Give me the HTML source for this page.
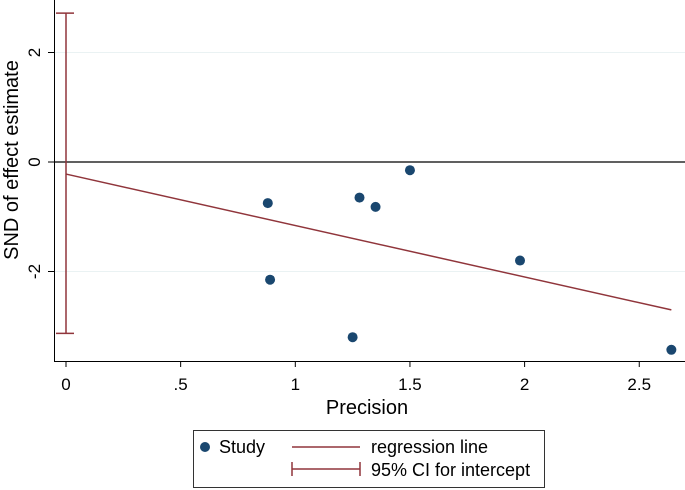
<!DOCTYPE html>
<html><head><meta charset="utf-8"><style>
body{margin:0;background:#fff}
svg{display:block;font-family:"Liberation Sans",Arial,sans-serif}
</style></head><body>
<svg width="685" height="490">
<g id="plot"></g>
<g>
<rect x="193.5" y="430.5" width="351" height="57" fill="#fff" stroke="#333" stroke-width="1"/>
<circle cx="205" cy="447" r="5" fill="#1a476f"/>
<text x="219" y="453" font-size="18" fill="#000">Study</text>
<line x1="292" y1="447" x2="360" y2="447" stroke="#90353b" stroke-width="1.5"/>
<text x="371" y="453" font-size="18" fill="#000">regression line</text>
<path d="M292 469H360M292 462V476M360 462V476" stroke="#90353b" stroke-width="1.5" fill="none"/>
<text x="371" y="476" font-size="18" fill="#000">95% CI for intercept</text>
</g>
</svg>
<script>
const precision=[0.88,0.89,1.25,1.28,1.35,1.50,1.98,2.64];
const snd=[-0.75,-2.15,-3.2,-0.65,-0.82,-0.15,-1.8,-3.43];
const xTicks=[0,0.5,1,1.5,2,2.5];
const xTickLabels=["0",".5","1","1.5","2","2.5"];
const yTicks=[-2,0,2];
const yTickLabels=["-2","0","2"];
const regIntercept=-0.22, regSlope=-0.94;
const ciLow=-3.13, ciHigh=2.72;
const regXMax=2.64;

const X=v=>66+v*229.3;
const Y=v=>162-v*54.75;
const ns="http://www.w3.org/2000/svg";
const g=document.getElementById('plot');
function mk(t,a){const e=document.createElementNS(ns,t);for(const k in a)e.setAttribute(k,a[k]);g.appendChild(e);return e;}

yTicks.forEach(t=>{if(t!==0){const l=mk('line',{x1:55,x2:685,y1:Y(t),y2:Y(t),stroke:'#eaf2f3','stroke-width':1});

}});
let ax=mk('line',{x1:54.5,x2:54.5,y1:0,y2:361,stroke:'#000','stroke-width':1});


ax=mk('line',{x1:54,x2:685,y1:361.5,y2:361.5,stroke:'#000','stroke-width':1});


let z=mk('line',{x1:55,x2:685,y1:Y(0),y2:Y(0),stroke:'#000','stroke-width':1.3});



xTicks.forEach((t,i)=>{
 const l=mk('line',{x1:X(t),x2:X(t),y1:361,y2:367,stroke:'#000'});
 
 
 const tx=mk('text',{x:X(t),y:390,'text-anchor':'middle','font-size':17});
 tx.textContent=xTickLabels[i];
 
 
});
yTicks.forEach((t,i)=>{
 const l=mk('line',{x1:48,x2:54,y1:Y(t),y2:Y(t),stroke:'#000'});
 
 
 const tx=mk('text',{x:0,y:0,'text-anchor':'middle','font-size':17,transform:`translate(40,${Y(t)}) rotate(-90)`});
 tx.textContent=yTickLabels[i];
 
 
});
let t=mk('text',{x:0,y:0,'text-anchor':'middle','font-size':20,transform:'translate(18,160) rotate(-90)'});
t.textContent='SND of effect estimate';


t=mk('text',{x:367,y:414,'text-anchor':'middle','font-size':20});
t.textContent='Precision';



const ci=mk('path',{d:`M${X(0)} ${Y(ciHigh)}V${Y(ciLow)}M${X(0)-10} ${Y(ciHigh)}H${X(0)+8}M${X(0)-10} ${Y(ciLow)}H${X(0)+8}`,stroke:'#90353b','stroke-width':1.5,fill:'none'});


const rl=mk('line',{x1:X(0),y1:Y(regIntercept),x2:X(regXMax),y2:Y(regIntercept+regSlope*regXMax),stroke:'#90353b','stroke-width':1.5});


precision.forEach((p,i)=>{
 const c=mk('circle',{cx:X(p),cy:Y(snd[i]),r:5,fill:'#1a476f'});
 
 
});
</script>
</body></html>
